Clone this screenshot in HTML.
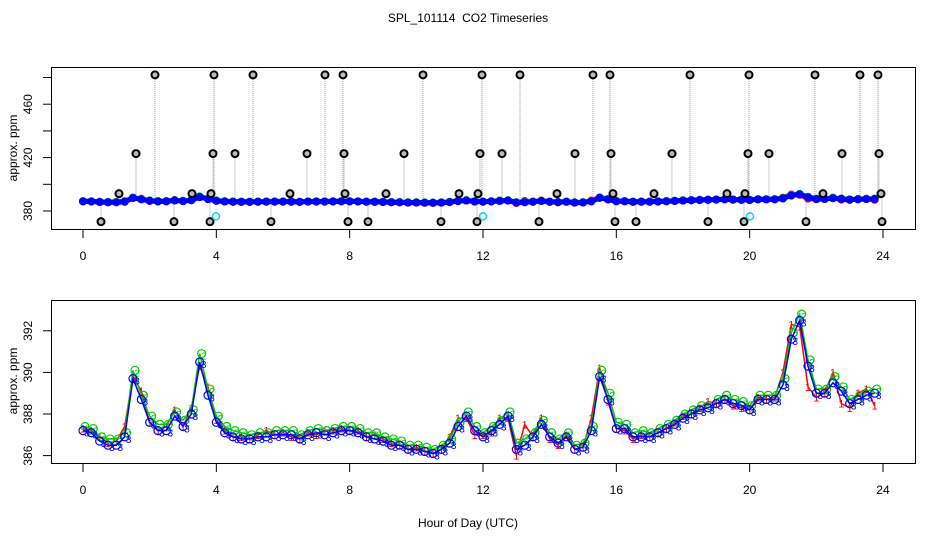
<!DOCTYPE html>
<html><head><meta charset="utf-8"><style>
body{margin:0;background:#fff}
svg text{font-family:"Liberation Sans",sans-serif}
</style></head><body>
<svg id="c" width="936" height="540" xmlns="http://www.w3.org/2000/svg">
<rect width="936" height="540" fill="#fff"/>
<text x="468" y="22" font-size="12" text-anchor="middle">SPL_101114&#160; CO2 Timeseries</text>
<text x="468" y="527" font-size="12" text-anchor="middle">Hour of Day (UTC)</text>
<g id="top"></g>
<g id="bot"></g>
</svg>
<script>
const hours=[0,0.25,0.5,0.75,1,1.25,1.5,1.75,2,2.25,2.5,2.75,3,3.25,3.5,3.75,4,4.25,4.5,4.75,5,5.25,5.5,5.75,6,6.25,6.5,6.75,7,7.25,7.5,7.75,8,8.25,8.5,8.75,9,9.25,9.5,9.75,10,10.25,10.5,10.75,11,11.25,11.5,11.75,12,12.25,12.5,12.75,13,13.25,13.5,13.75,14,14.25,14.5,14.75,15,15.25,15.5,15.75,16,16.25,16.5,16.75,17,17.25,17.5,17.75,18,18.25,18.5,18.75,19,19.25,19.5,19.75,20,20.25,20.5,20.75,21,21.25,21.5,21.75,22,22.25,22.5,22.75,23,23.25,23.5,23.75];
const seriesGreen=[387.4,387.3,386.9,386.8,386.8,387.1,390.1,388.9,387.9,387.5,387.5,388.1,387.7,388.2,390.9,389.2,387.9,387.4,387.2,387.1,387.0,387.1,387.1,387.2,387.2,387.2,387.0,387.2,387.3,387.2,387.3,387.4,387.4,387.3,387.1,387.1,386.9,386.8,386.7,386.5,386.5,386.4,386.3,386.5,386.8,387.6,388.1,387.4,387.1,387.4,387.7,388.1,386.6,386.8,387.1,387.7,387.1,386.8,387.1,386.5,386.6,387.4,390.1,389.0,387.6,387.5,387.1,387.2,387.1,387.3,387.5,387.7,388.0,388.2,388.4,388.4,388.7,388.9,388.7,388.6,388.4,388.9,388.9,388.9,389.7,391.9,392.8,390.6,389.2,389.2,389.8,389.3,388.7,388.9,389.1,389.2];
const seriesRed=[387.3,387.2,386.9,386.6,386.7,387.4,389.8,389.1,387.6,387.2,387.4,388.2,387.4,388.3,390.3,389.3,387.7,387.2,386.9,386.9,386.8,387.0,387.2,387.0,387.1,386.9,386.8,387.1,387.0,387.2,387.2,387.3,387.2,387.2,386.9,387.0,386.8,386.6,386.5,386.3,386.4,386.2,386.1,386.3,386.9,387.8,387.8,387.0,387.0,387.1,387.8,387.8,386.0,387.5,386.9,387.8,386.8,386.5,387.0,386.3,386.4,387.8,390.2,388.6,387.3,387.2,386.8,387.0,386.9,387.1,387.3,387.6,387.9,388.0,388.3,388.6,388.5,388.7,388.4,388.3,388.2,388.8,388.7,388.8,390.0,392.3,392.2,389.3,388.8,389.0,390.0,388.5,388.3,389.0,389.2,388.4];
const seriesBlue=[387.2,387.1,386.7,386.5,386.5,386.9,389.7,388.7,387.6,387.2,387.2,387.9,387.4,388.0,390.5,388.9,387.6,387.1,386.9,386.8,386.8,386.9,386.9,387.0,387.0,387.0,386.8,387.0,387.1,387.0,387.1,387.2,387.2,387.1,386.9,386.8,386.7,386.5,386.5,386.3,386.3,386.2,386.1,386.3,386.6,387.4,387.9,387.2,386.9,387.2,387.5,387.9,386.3,386.5,386.9,387.5,386.9,386.6,386.9,386.3,386.4,387.2,389.8,388.7,387.3,387.3,386.9,386.9,386.9,387.1,387.3,387.5,387.8,388.0,388.2,388.3,388.5,388.7,388.5,388.4,388.2,388.7,388.7,388.7,389.4,391.6,392.5,390.3,389.0,389.0,389.5,389.1,388.5,388.7,388.9,389.0];
const outHours482=[2.16,3.93,5.10,7.26,7.80,10.20,11.97,13.11,15.30,15.81,18.21,19.98,21.96,23.31,23.85];
const outHours423=[1.59,3.90,4.56,6.72,7.83,9.63,11.91,12.57,14.76,15.84,17.67,19.95,20.58,22.77,23.88];
const outHours393=[1.08,3.27,3.84,6.21,7.86,9.09,11.28,11.85,14.22,15.90,17.13,19.32,19.86,22.20,23.94];
const outHours372=[0.54,2.73,3.81,5.64,7.95,8.55,10.74,11.82,13.68,15.96,16.59,18.75,19.83,21.69,23.97];
const outLevels=[482,423,393,372];
const cyanHours=[3.99,12.0,20.01];
const cyanValue=376;
const xTicks=[0,4,8,12,16,20,24];
const topTicks=[380,400,420,440,460,480];
const topLabels=[380,420,460];
const botTicks=[386,388,390,392];

const NS="http://www.w3.org/2000/svg";
function mk(p,tag,a,name,txt){const e=document.createElementNS(NS,tag);for(const k in a)e.setAttribute(k,a[k]);


if(txt!==undefined)e.textContent=txt;p.appendChild(e);return e;}
const X=h=>83+h*33.333;
const topY=v=>211-(v-380)*1.335;
const botY=v=>414-(v-388)*20.8;
const topG=document.getElementById('top'),botG=document.getElementById('bot');

function frame(g,y0,y1,yfn,ticks,labels,lblY){
 mk(g,'rect',{x:51.5,y:y0+0.5,width:864,height:y1-y0,fill:'none',stroke:'#000','stroke-width':1},'plot-frame');
 xTicks.forEach(t=>{mk(g,'line',{x1:X(t),x2:X(t),y1:y1,y2:y1+9,stroke:'#000'},'x-tick');
  mk(g,'text',{x:X(t),y:y1+31,'font-size':12,'text-anchor':'middle'},'x-tick-label',String(t));});
 ticks.forEach(t=>mk(g,'line',{x1:43,x2:51,y1:yfn(t),y2:yfn(t),stroke:'#000'},'y-tick'));
 labels.forEach(t=>mk(g,'text',{x:32,y:yfn(t),'font-size':12,'text-anchor':'middle',transform:`rotate(-90 32 ${yfn(t)})`},'y-tick-label',String(t)));
 mk(g,'text',{x:17,y:lblY,'font-size':12,'text-anchor':'middle',transform:`rotate(-90 17 ${lblY})`},'y-axis-title','approx. ppm');
}
frame(topG,67,229,topY,topTicks,topLabels,148);
frame(botG,300,463,botY,botTicks,botTicks,381);

const n=hours.length;
[outHours482,outHours423,outHours393,outHours372].forEach((arr,i)=>{
 const lv=outLevels[i];
 arr.forEach(h=>{
  const base=seriesGreen[Math.min(n-1,Math.round(h*4))];
  mk(topG,'line',{x1:X(h),x2:X(h),y1:topY(lv),y2:topY(base),stroke:'#999','stroke-dasharray':'1,1'},'outlier-stem');
 });
});
const cols=[['#f00',seriesRed],['#0c0',seriesGreen],['#00f',seriesBlue]];
cols.forEach(([c,s])=>{
 const pts=s.slice(0,n);
 mk(topG,'polyline',{points:pts.map((v,i)=>X(hours[i])+','+topY(v)).join(' '),fill:'none',stroke:c,'stroke-width':5,'stroke-linejoin':'round','stroke-linecap':'round'},'top-series-band');
 pts.forEach((v,i)=>mk(topG,'circle',{cx:X(hours[i]),cy:topY(v),r:3.3,fill:'none',stroke:c,'stroke-width':1.5},'top-point'));
});
[outHours482,outHours423,outHours393,outHours372].forEach((arr,i)=>{
 arr.forEach(h=>mk(topG,'circle',{cx:X(h),cy:topY(outLevels[i]),r:3.5,fill:'#bbb',stroke:'#000','stroke-width':2},'outlier-point'));
});
cyanHours.forEach(h=>mk(topG,'circle',{cx:X(h),cy:topY(cyanValue),r:3.5,fill:'none',stroke:'#0dd','stroke-width':1.5},'cyan-point'));

cols.forEach(([c,s],k)=>{
 const pts=s.slice(0,n);
 mk(botG,'polyline',{points:pts.map((v,i)=>X(hours[i])+','+botY(v)).join(' '),fill:'none',stroke:c,'stroke-width':1.5},'bottom-series-line');
 pts.forEach((v,i)=>{
  if(k===0) mk(botG,'text',{x:X(hours[i]),y:botY(v)+4,'font-size':11,fill:c,'text-anchor':'middle'},'red-point','1');
  else {
   mk(botG,'circle',{cx:X(hours[i])+(k===1?2:0),cy:botY(v),r:4,fill:'none',stroke:c,'stroke-width':1.2},k===1?'green-point':'blue-point');
   mk(botG,'text',{x:X(hours[i])+4,y:botY(v)+6,'font-size':10,fill:c,'text-anchor':'middle'},k===1?'green-label':'blue-label',k===1?'2':'3');
  }
 });
});
</script>
</body></html>
